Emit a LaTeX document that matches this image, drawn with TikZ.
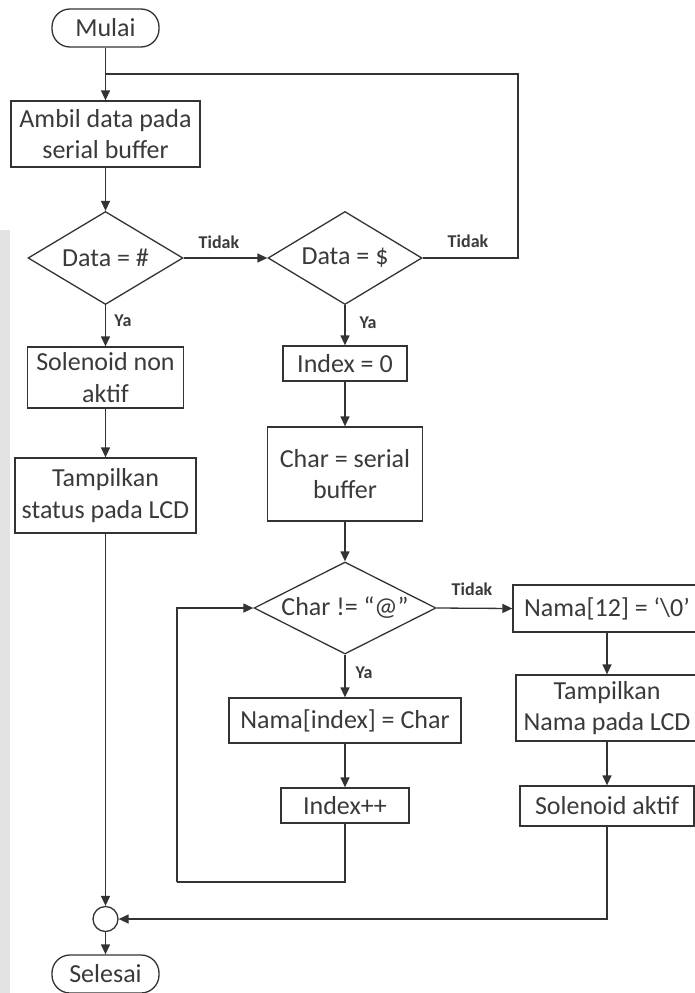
\documentclass[tikz,border=0pt]{standalone}
\usepackage{fontspec}
\setmainfont{Carlito}
\usetikzlibrary{shapes.geometric,arrows.meta}
\definecolor{ink}{HTML}{333333}
\definecolor{txt}{HTML}{3A3A3A}
\tikzset{
  base/.style={draw=ink, line width=1.3pt, inner sep=0pt, align=center, text=txt,
    font=\fontsize{26}{31.5}\selectfont},
  procbox/.style={base, rectangle},
  termbox/.style={base, rectangle, rounded corners=18pt},
  decbox/.style={base, diamond},
  lbl/.style={text=txt, inner sep=0pt, font=\bfseries\fontsize{18}{20}\selectfont},
  conn/.style={draw=ink, line width=1.3pt},
  arr/.style={conn, -{Triangle[length=10pt,width=9pt]}}
}
\begin{document}
\begin{tikzpicture}[x=1pt,y=-1pt]
\useasboundingbox (0,0) rectangle (695,993);
\fill[gray!22] (0,230) rectangle (10,993);

% left column
\node[termbox, minimum width=107pt, minimum height=38pt] (mulai) at (105.5,28) {Mulai};
\node[procbox, minimum width=189pt, minimum height=66pt] (ambil) at (105.5,134) {Ambil data pada\\serial buffer};
\node[decbox, aspect=1.67, minimum width=155pt, minimum height=93pt] (d1) at (105.5,258) {Data = \#};
\node[procbox, minimum width=156pt, minimum height=61pt] (solnon) at (105.5,377.5) {Solenoid non\\aktif};
\node[procbox, minimum width=181pt, minimum height=75pt] (tampil1) at (105.5,495.5) {Tampilkan\\status pada LCD};
\node[draw=ink, line width=1.3pt, circle, minimum size=25pt, inner sep=0pt] (junc) at (105.5,919) {};
\node[termbox, minimum width=107pt, minimum height=38pt] (selesai) at (105.5,974) {Selesai};

% middle column
\node[decbox, aspect=1.66, minimum width=154pt, minimum height=93pt] (d2) at (345,258) {Data = \$};
\node[procbox, minimum width=124pt, minimum height=35pt] (idx0) at (345,363.5) {Index = 0};
\node[procbox, minimum width=155pt, minimum height=94pt] (charbuf) at (345,474) {Char = serial\\buffer};
\node[decbox, aspect=2, minimum width=182pt, minimum height=92pt] (d3) at (345,608) {Char != “@”};
\node[procbox, minimum width=232pt, minimum height=45pt] (namaidx) at (345,720.5) {Nama[index] = Char};
\node[procbox, minimum width=128pt, minimum height=35pt] (idxpp) at (345,805.5) {Index++};

% right column
\node[procbox, minimum width=188pt, minimum height=47pt] (nama12) at (607,608.5) {Nama[12] = ‘\textbackslash0’};
\node[procbox, minimum width=182pt, minimum height=66pt] (tampil2) at (607,708) {Tampilkan\\Nama pada LCD};
\node[procbox, minimum width=174pt, minimum height=40pt] (solakt) at (607,806) {Solenoid aktif};

% helper coordinates
\coordinate (looptop) at (105.5,74);
\coordinate (loopR) at (518,258);
\coordinate (loopB) at (345,882);
\coordinate (loopL) at (177,882);

% connectors
\draw[arr] (mulai.south) -- (ambil.north);
\draw[conn] (d2.east) -- (loopR) |- (looptop);
\draw[arr] (ambil.south) -- (d1.north);
\draw[arr] (d1.east) -- (d2.west);
\draw[arr] (d1.south) -- (solnon.north);
\draw[arr] (solnon.south) -- (tampil1.north);
\draw[arr] (tampil1.south) -- (junc.north);
\draw[arr] (junc.south) -- (selesai.north);

\draw[arr] (d2.south) -- (idx0.north);
\draw[arr] (idx0.south) -- (charbuf.north);
\draw[arr] (charbuf.south) -- (d3.north);
\draw[arr] (d3.south) -- (namaidx.north);
\draw[arr] (namaidx.south) -- (idxpp.north);
\draw[conn] (idxpp.south) -- (loopB) -- (loopL);
\draw[arr] (loopL) |- (d3.west);

\draw[arr] (d3.east) -- (nama12.west);
\draw[arr] (nama12.south) -- (tampil2.north);
\draw[arr] (tampil2.south) -- (solakt.north);
\draw[arr] (solakt.south) |- (junc.east);

% labels
\node[lbl] (t1) at (219,242) {Tidak};
\node[lbl] (t2) at (468,241) {Tidak};
\node[lbl] (t3) at (472,589) {Tidak};
\node[lbl] (y1) at (123,321) {Ya};
\node[lbl] (y2) at (368,323) {Ya};
\node[lbl] (y3) at (364,673) {Ya};
\end{tikzpicture}
\end{document}
